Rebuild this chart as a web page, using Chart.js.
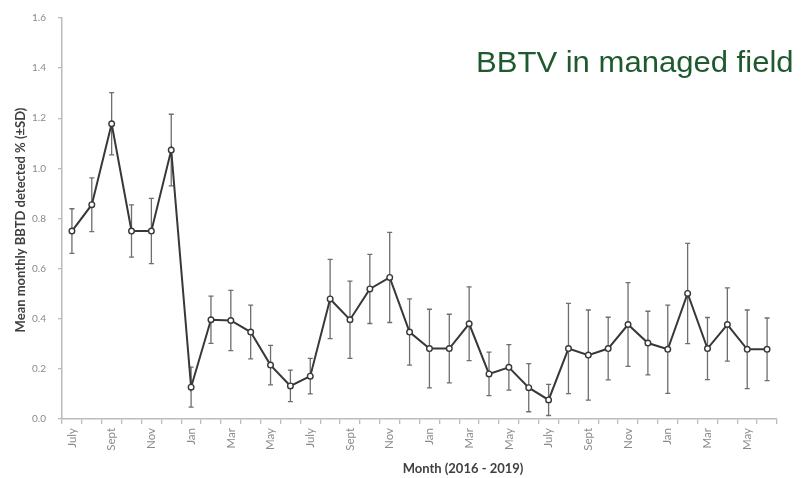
<!DOCTYPE html>
<html>
<head>
<meta charset="utf-8">
<script src="https://cdn.jsdelivr.net/npm/chart.js@4.4.1/dist/chart.umd.min.js"></script>
<style>
  html, body { margin: 0; padding: 0; background: #fff; }
  #wrap { position: relative; width: 803px; height: 478px; }
  #title {
    position: absolute; left: 476px; top: 47px;
    font-family: "Liberation Sans", Arial, sans-serif; font-size: 30px;
    color: #1f5a2f; white-space: nowrap; line-height: 1;
    transform-origin: 0 0; transform: scaleX(1.035);
  }
</style>
</head>
<body>
<div id="wrap">
  <canvas id="c" width="803" height="478"></canvas>
  <div id="title">BBTV in managed field</div>
</div>
<script>
// Month categories, July 2016 to June 2019
const months = [
  'July','Aug','Sept','Oct','Nov','Dec','Jan','Feb','Mar','Apr','May','June',
  'July','Aug','Sept','Oct','Nov','Dec','Jan','Feb','Mar','Apr','May','June',
  'July','Aug','Sept','Oct','Nov','Dec','Jan','Feb','Mar','Apr','May','June'
];

// Mean monthly BBTD detected (%)
const meanDetected = [
  0.75, 0.855, 1.178, 0.75, 0.75, 1.073,
  0.127, 0.396, 0.393, 0.347, 0.215, 0.132,
  0.171, 0.479, 0.396, 0.519, 0.565, 0.347,
  0.281, 0.281, 0.38, 0.18, 0.206, 0.125,
  0.076, 0.281, 0.255, 0.281, 0.377, 0.303,
  0.278, 0.501, 0.281, 0.377, 0.278, 0.278
];

// Standard deviation for each month
const sdDetected = [
  0.089, 0.107, 0.124, 0.104, 0.13, 0.143,
  0.08, 0.094, 0.12, 0.107, 0.079, 0.063,
  0.071, 0.158, 0.154, 0.138, 0.18, 0.132,
  0.157, 0.137, 0.147, 0.087, 0.091, 0.096,
  0.062, 0.18, 0.18, 0.125, 0.167, 0.127,
  0.176, 0.2, 0.124, 0.146, 0.157, 0.125
];

const yTicks = [0, 0.2, 0.4, 0.6, 0.8, 1.0, 1.2, 1.4, 1.6];

const AXIS = '#bcbcbc';
const TICK_TXT = '#8a8a8a';
const FONT = 'Lato, "Open Sans", sans-serif';

// Vertical ±SD whiskers behind the line
const errorBars = {
  id: 'errorBars',
  beforeDatasetsDraw(chart) {
    const ctx = chart.ctx;
    const y = chart.scales.y;
    const meta = chart.getDatasetMeta(0);
    ctx.save();
    ctx.strokeStyle = '#6e6e6e';
    ctx.lineWidth = 1.3;
    meta.data.forEach((pt, i) => {
      const top = y.getPixelForValue(meanDetected[i] + sdDetected[i]);
      const bot = y.getPixelForValue(Math.max(0, meanDetected[i] - sdDetected[i]));
      const x = pt.x;
      ctx.beginPath();
      ctx.moveTo(x, top); ctx.lineTo(x, bot);
      ctx.moveTo(x - 2.5, top); ctx.lineTo(x + 2.5, top);
      ctx.moveTo(x - 2.5, bot); ctx.lineTo(x + 2.5, bot);
      ctx.stroke();
    });
    ctx.restore();
  }
};

// Axis titles
const axisTitles = {
  id: 'axisTitles',
  afterDraw(chart) {
    const ctx = chart.ctx;
    ctx.save();
    ctx.fillStyle = '#404040';
    ctx.font = 'bold 13px ' + FONT;
    ctx.textAlign = 'center';
    ctx.textBaseline = 'middle';
    ctx.fillText('Month (2016 - 2019)', 463, 469);
    ctx.translate(21, 220);
    ctx.rotate(-Math.PI / 2);
    ctx.fillText('Mean monthly BBTD detected % (\u00B1SD)', 0, 0);
    ctx.restore();
  }
};

new Chart(document.getElementById('c'), {
  type: 'line',
  data: {
    labels: months,
    datasets: [{
      data: meanDetected,
      borderColor: '#383838',
      borderWidth: 2,
      pointRadius: 2.8,
      pointBorderWidth: 1.4,
      pointBackgroundColor: '#ffffff',
      pointBorderColor: '#383838',
      tension: 0
    }]
  },
  options: {
    responsive: false,
    animation: false,
    devicePixelRatio: 1,
    layout: { padding: { left: 0, top: 15, right: 26, bottom: 0 } },
    plugins: { legend: { display: false }, tooltip: { enabled: false } },
    scales: {
      x: {
        type: 'category',
        offset: true,
        afterFit(scale) { scale.height = 59; },
        grid: {
          offset: true, drawOnChartArea: false, drawTicks: true,
          tickLength: 5, color: AXIS, lineWidth: 1.3
        },
        border: { display: true, color: AXIS, width: 1.5 },
        ticks: {
          autoSkip: false, maxRotation: 90, minRotation: 90, padding: 4,
          color: TICK_TXT, font: { family: FONT, size: 11.5 },
          callback(v, i) { return i % 2 === 0 ? months[i] : ''; }
        }
      },
      y: {
        min: 0, max: 1.6,
        afterFit(scale) { scale.width = 62; },
        afterBuildTicks(scale) { scale.ticks = yTicks.map(v => ({ value: v })); },
        grid: {
          drawOnChartArea: false, drawTicks: true, tickLength: 4,
          color: AXIS, lineWidth: 1.3
        },
        border: { display: true, color: AXIS, width: 1.5 },
        ticks: {
          padding: 12, color: TICK_TXT, font: { family: FONT, size: 10 },
          callback(v) { return Number(v).toFixed(1); }
        }
      }
    }
  },
  plugins: [errorBars, axisTitles]
});
</script>
</body>
</html>
